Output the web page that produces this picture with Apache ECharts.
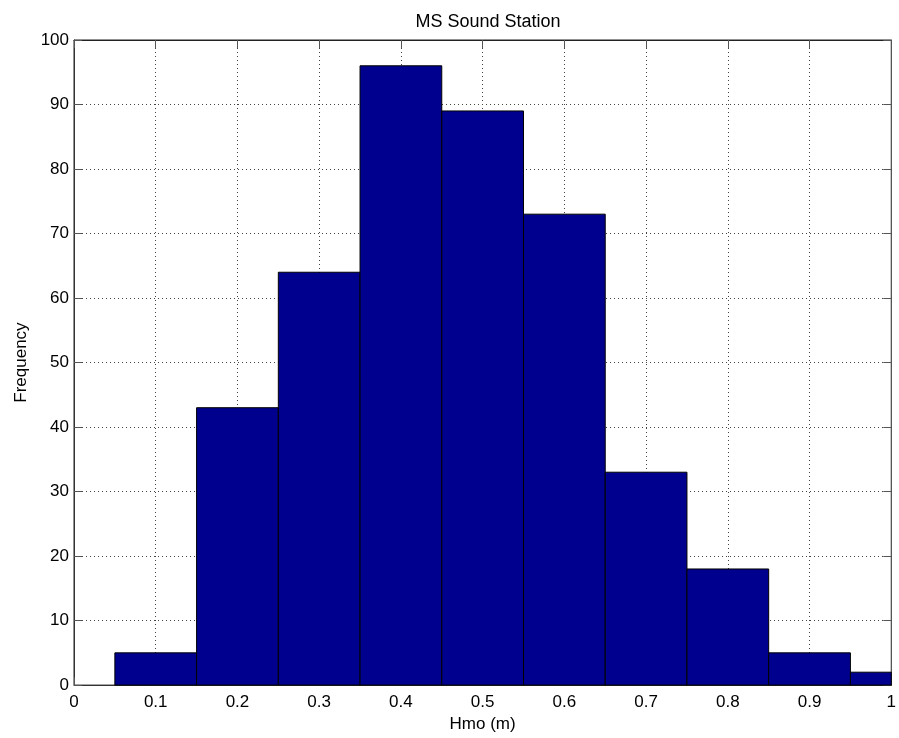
<!DOCTYPE html>
<html>
<head>
<meta charset="utf-8">
<script src="https://cdn.jsdelivr.net/npm/echarts@6/dist/echarts.min.js"></script>
<style>html,body{margin:0;padding:0;background:#fff}#c{width:899px;height:738px}</style>
</head>
<body>
<div id="c"></div>
<script>
const binCenters = [0.1, 0.2, 0.3, 0.4, 0.5, 0.6, 0.7, 0.8, 0.9, 1.0];
const frequencies = [5, 43, 64, 96, 89, 73, 33, 18, 5, 2];
const binWidth = 0.1;
const titleText = 'MS Sound Station';
const xLabel = 'Hmo (m)';
const yLabel = 'Frequency';

const chart = echarts.init(document.getElementById('c'));
const font = 'Liberation Sans, Arial, sans-serif';
const data = binCenters.map((c, i) => [c, frequencies[i]]);

chart.setOption({
  animation: false,
  backgroundColor: '#fff',
  title: {
    text: titleText, left: 483, top: 8, textAlign: 'center',
    textStyle: { fontFamily: font, fontSize: 18, fontWeight: 'normal', color: '#000' }
  },
  grid: { left: 74, top: 40, right: 6, bottom: 52, show: true, borderColor: '#222', borderWidth: 1 },
  xAxis: [{
    type: 'value', min: 0, max: 1, interval: 0.1,
    name: xLabel, nameLocation: 'middle', nameGap: 30,
    nameTextStyle: { fontFamily: font, fontSize: 17, color: '#000' },
    axisLine: { show: true, onZero: false, lineStyle: { color: '#333' } },
    axisTick: { show: true, inside: true, length: 8, lineStyle: { color: '#555' } },
    axisLabel: { fontFamily: font, fontSize: 17, color: '#000', margin: 9,
      formatter: v => (Math.round(v * 10) / 10).toString() },
    splitLine: { show: true, lineStyle: { color: '#444', type: [1, 3], width: 1 } }
  }, {
    type: 'value', min: 0, max: 1, interval: 0.1, position: 'top',
    axisLine: { show: true, onZero: false, lineStyle: { color: '#222' } },
    axisTick: { show: true, inside: true, length: 8, lineStyle: { color: '#555' } },
    axisLabel: { show: false }, splitLine: { show: false }
  }],
  yAxis: [{
    type: 'value', min: 0, max: 100, interval: 10,
    name: yLabel, nameLocation: 'middle', nameGap: 44,
    nameTextStyle: { fontFamily: font, fontSize: 17, color: '#000' },
    axisLine: { show: true, onZero: false, lineStyle: { color: '#333' } },
    axisTick: { show: true, inside: true, length: 8, lineStyle: { color: '#555' } },
    axisLabel: { fontFamily: font, fontSize: 17, color: '#000', margin: 5 },
    splitLine: { show: true, lineStyle: { color: '#444', type: [1, 3], width: 1 } }
  }, {
    type: 'value', min: 0, max: 100, interval: 10, position: 'right',
    axisLine: { show: true, onZero: false, lineStyle: { color: '#555' } },
    axisTick: { show: true, inside: true, length: 8, lineStyle: { color: '#555' } },
    axisLabel: { show: false }, splitLine: { show: false }
  }],
  series: [{
    type: 'custom',
    xAxisIndex: 0, yAxisIndex: 0,
    data: data,
    renderItem: function (params, api) {
      const c = api.value(0), v = api.value(1);
      const p0 = api.coord([c - binWidth / 2, v]);
      const p1 = api.coord([c + binWidth / 2, 0]);
      const rect = echarts.graphic.clipRectByRect(
        { x: p0[0], y: p0[1], width: p1[0] - p0[0], height: p1[1] - p0[1] },
        { x: params.coordSys.x, y: params.coordSys.y, width: params.coordSys.width, height: params.coordSys.height }
      );
      if (!rect) return;
      return { type: 'rect', shape: rect, style: { fill: '#00008F', stroke: '#000', lineWidth: 1 } };
    }
  }]
});
</script>
</body>
</html>
